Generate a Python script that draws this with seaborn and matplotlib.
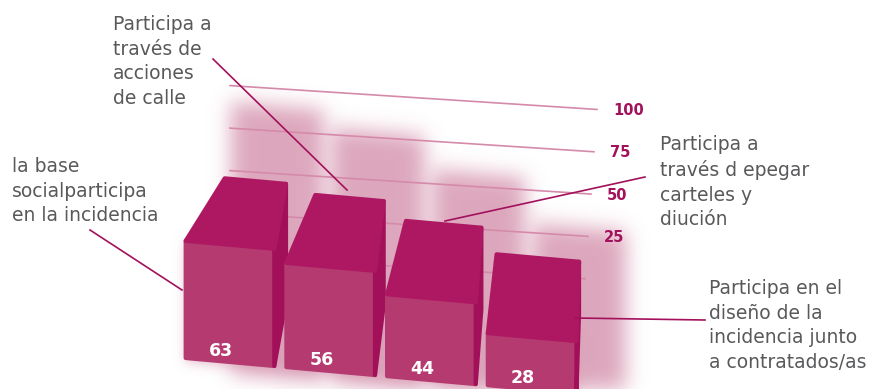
import numpy as np
import pandas as pd
import matplotlib
matplotlib.use("Agg")
import matplotlib.pyplot as plt
import matplotlib.transforms as mtransforms
from matplotlib.colors import to_rgb
from matplotlib.patches import Polygon, Rectangle
import seaborn as sns

# datos
categorias = ["la base\nsocialparticipa\nen la incidencia",
              "Participa a\ntravés de\nacciones\nde calle",
              "Participa a\ntravés d epegar\ncarteles y\ndiución",
              "Participa en el\ndiseño de la\nincidencia junto\na contratados/as"]
valores = [63, 56, 44, 28]
ticks = [25, 50, 75, 100]
grid_vals = [0, 25, 50, 75, 100]

df = pd.DataFrame({"cat": categorias, "val": valores})

c_front = "#B43A70"
c_top = "#AE1862"
c_side = "#A3105A"
c_shadow = "#D99DB5"
c_grid = "#D58AAA"
c_tick = "#A3105B"
c_text = "#58595B"

W, H = 875, 389
fig = plt.figure(figsize=(W / 100, H / 100), dpi=100)


def skew(slope, x0):
    # inclinacion en pixeles: baja hacia la derecha
    return mtransforms.Affine2D(np.array([[1, 0, 0], [-slope, 1, slope * x0], [0, 0, 1]]))


class Blur:
    # difumina el alfa de lo dibujado (agg_filter)
    def __init__(self, sigma, color, alpha):
        self.sigma, self.rgb, self.alpha = sigma, np.array(to_rgb(color)), alpha

    def __call__(self, im, dpi):
        pad = int(3 * self.sigma)
        a = np.pad(im[:, :, 3], pad)
        k = np.exp(-0.5 * (np.arange(-pad, pad + 1) / self.sigma) ** 2)
        k /= k.sum()
        a = np.apply_along_axis(lambda r: np.convolve(r, k, mode="same"), 0, a)
        a = np.apply_along_axis(lambda r: np.convolve(r, k, mode="same"), 1, a)
        out = np.zeros(a.shape + (4,))
        out[:, :, :3] = self.rgb
        out[:, :, 3] = a * self.alpha
        return out, -pad, -pad


# pared del fondo (rejilla)
wall = fig.add_axes([0, 0, 1, 1], zorder=0)
wall.set_xlim(0, W)
wall.set_ylim(-110 / 1.7, (H - 110) / 1.7)
wall.axis("off")
t_wall = wall.transData + skew(0.065, 590)

# barras
ax = fig.add_axes([0, 0, 1, 1], zorder=1)
sns.barplot(data=df, x="cat", y="val", order=categorias, color=c_front,
            saturation=1, width=0.88, errorbar=None, ax=ax)
kx, ky = 100.7, 1.86
x_lo = -230 / kx
ax.set_xlim(x_lo, (W - 230) / kx)
ax.set_ylim(-27 / ky, (H - 27) / ky)
ax.axis("off")
ax.patch.set_visible(False)
t_bar = ax.transData + skew(0.09, 230)

for i, rect in enumerate(ax.patches):
    x0, w, h = rect.get_x(), rect.get_width(), rect.get_height()
    cx = (x0 + w / 2 - x_lo) * kx
    dx = 0.1 * (620 - cx) / kx
    dy = (66 + 0.045 * (cx - 230)) / ky

    # sombra difusa detras de cada barra
    sh = Rectangle((x0 + 0.45, -6), w + 0.04, h + dy + 0.66 * h + 6, transform=t_bar,
                   facecolor="k", edgecolor="none", zorder=1)
    sh.set_agg_filter(Blur(10, c_shadow, 0.9))
    wall.add_patch(sh)
    glow = Rectangle((x0, -2), w + 0.3 * dx, h + 2, transform=t_bar,
                     facecolor="k", edgecolor="none", zorder=1.5)
    glow.set_agg_filter(Blur(6, c_shadow, 0.7))
    wall.add_patch(glow)

    z = 3 + i
    rect.set_transform(t_bar)
    rect.set_edgecolor(c_front)
    rect.set_linewidth(3)
    rect.set_joinstyle("round")
    rect.set_zorder(z)
    side = Polygon([(x0 + w, 0), (x0 + w + 0.3 * dx, dy), (x0 + w + 0.3 * dx, h + dy), (x0 + w, h)],
                   closed=True, transform=t_bar, facecolor=c_side, edgecolor=c_side,
                   lw=3, joinstyle="round", zorder=z + 0.1)
    top = Polygon([(x0, h), (x0 + w, h), (x0 + w + 0.3 * dx, h + dy), (x0 + dx, h + dy)],
                  closed=True, transform=t_bar, facecolor=c_top, edgecolor=c_top,
                  lw=3, joinstyle="round", zorder=z + 0.2)
    ax.add_patch(side)
    ax.add_patch(top)
    ax.text(x0 + w / 2 - 0.09, 5.5, str(valores[i]), transform=t_bar, color="white",
            fontsize=12.5, fontweight="bold", ha="center", va="center", zorder=z + 0.3)

# rejilla y etiquetas
for v in grid_vals:
    wall.plot([230, 585 + 0.12 * v], [v, v], transform=t_wall, color=c_grid, lw=1.2, zorder=2)
for v in ticks:
    wall.text(604 + 0.12 * (v - 25), v, str(v), transform=t_wall, color=c_tick,
              fontsize=10.5, fontweight="bold", ha="left", va="center", zorder=2)

# anotaciones
ov = fig.add_axes([0, 0, 1, 1], zorder=5)
ov.set_xlim(0, W)
ov.set_ylim(H, 0)
ov.axis("off")
text_pos = [(12, 157), (113, 15), (660, 135), (709, 279)]
leaders = [((90, 230), (182, 290)), ((213, 59), (347, 190)),
           ((645, 177), (445, 221)), ((705, 320), (575, 318))]
for lab, (tx, ty), (p0, p1) in zip(categorias, text_pos, leaders):
    ov.text(tx, ty, lab, color=c_text, fontsize=13.5, ha="left", va="top", linespacing=1.38)
    ov.plot([p0[0], p1[0]], [p0[1], p1[1]], color=c_tick, lw=1.2)

fig.savefig("out.png", dpi=100)
